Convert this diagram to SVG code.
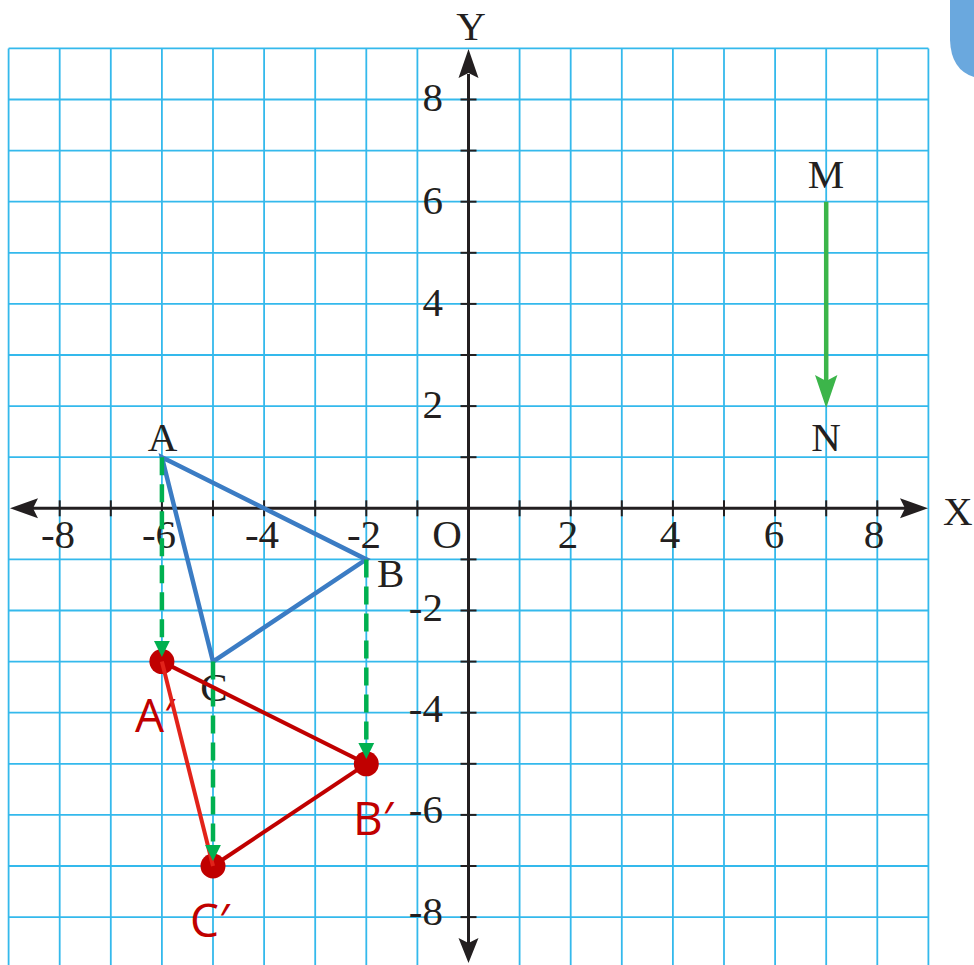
<svg xmlns="http://www.w3.org/2000/svg" width="974" height="965" viewBox="0 0 974 965">
<defs>
<style>
.grid line{stroke:#34b9ec;stroke-width:1.8}
.axis{stroke:#231f20;stroke-width:3;fill:none}
.tick{stroke:#231f20;stroke-width:2}
.lbl{font-family:"Liberation Serif","Times New Roman",serif;font-size:41px;fill:#231f20}
.xl{text-anchor:middle}
.yl{text-anchor:end}
.rl{font-family:"Open Sans","Noto Sans","DejaVu Sans",sans-serif;font-size:46px;fill:#c00000}
.dash{stroke:#00b050;stroke-width:4.5;stroke-dasharray:18 9;fill:none}
.gh{fill:#00b050}
.red{stroke:#c00000;stroke-width:4;fill:none}
.dot{fill:#c00000}
</style>
</defs>
<rect width="974" height="965" fill="#ffffff"/>
<path d="M950 0 L950 40 Q951 70 974 77 L974 0 Z" fill="#6aa8de"/>
<g class="grid">
<line x1="8.6" y1="48.4" x2="8.6" y2="965"/>
<line x1="59.7" y1="48.4" x2="59.7" y2="965"/>
<line x1="110.8" y1="48.4" x2="110.8" y2="965"/>
<line x1="161.9" y1="48.4" x2="161.9" y2="965"/>
<line x1="213" y1="48.4" x2="213" y2="965"/>
<line x1="264.1" y1="48.4" x2="264.1" y2="965"/>
<line x1="315.2" y1="48.4" x2="315.2" y2="965"/>
<line x1="366.3" y1="48.4" x2="366.3" y2="965"/>
<line x1="417.4" y1="48.4" x2="417.4" y2="965"/>
<line x1="519.6" y1="48.4" x2="519.6" y2="965"/>
<line x1="570.7" y1="48.4" x2="570.7" y2="965"/>
<line x1="621.8" y1="48.4" x2="621.8" y2="965"/>
<line x1="672.9" y1="48.4" x2="672.9" y2="965"/>
<line x1="724" y1="48.4" x2="724" y2="965"/>
<line x1="775.1" y1="48.4" x2="775.1" y2="965"/>
<line x1="826.2" y1="48.4" x2="826.2" y2="965"/>
<line x1="877.3" y1="48.4" x2="877.3" y2="965"/>
<line x1="928.4" y1="48.4" x2="928.4" y2="965"/>
<line x1="8.6" y1="48.4" x2="928.4" y2="48.4"/>
<line x1="8.6" y1="99.5" x2="928.4" y2="99.5"/>
<line x1="8.6" y1="150.6" x2="928.4" y2="150.6"/>
<line x1="8.6" y1="201.7" x2="928.4" y2="201.7"/>
<line x1="8.6" y1="252.8" x2="928.4" y2="252.8"/>
<line x1="8.6" y1="303.9" x2="928.4" y2="303.9"/>
<line x1="8.6" y1="355" x2="928.4" y2="355"/>
<line x1="8.6" y1="406.1" x2="928.4" y2="406.1"/>
<line x1="8.6" y1="457.2" x2="928.4" y2="457.2"/>
<line x1="8.6" y1="559.4" x2="928.4" y2="559.4"/>
<line x1="8.6" y1="610.5" x2="928.4" y2="610.5"/>
<line x1="8.6" y1="661.6" x2="928.4" y2="661.6"/>
<line x1="8.6" y1="712.7" x2="928.4" y2="712.7"/>
<line x1="8.6" y1="763.8" x2="928.4" y2="763.8"/>
<line x1="8.6" y1="814.9" x2="928.4" y2="814.9"/>
<line x1="8.6" y1="866" x2="928.4" y2="866"/>
<line x1="8.6" y1="917.1" x2="928.4" y2="917.1"/>
</g>
<g id="axes">
<line class="axis" x1="32" y1="508.3" x2="905" y2="508.3"/>
<line class="axis" x1="468.5" y1="74" x2="468.5" y2="943"/>
<polygon points="928,508.3 900,498.3 905,508.3 900,518.3" fill="#231f20"/>
<polygon points="10,508.3 38,498.3 33,508.3 38,518.3" fill="#231f20"/>
<polygon points="468.5,49 458.5,78 468.5,73 478.5,78" fill="#231f20"/>
<polygon points="468.5,963 458.5,938 468.5,943 478.5,938" fill="#231f20"/>
<g class="tick">
<line x1="59.7" y1="500.3" x2="59.7" y2="516.3"/>
<line x1="110.8" y1="500.3" x2="110.8" y2="516.3"/>
<line x1="161.9" y1="500.3" x2="161.9" y2="516.3"/>
<line x1="213" y1="500.3" x2="213" y2="516.3"/>
<line x1="264.1" y1="500.3" x2="264.1" y2="516.3"/>
<line x1="315.2" y1="500.3" x2="315.2" y2="516.3"/>
<line x1="366.3" y1="500.3" x2="366.3" y2="516.3"/>
<line x1="417.4" y1="500.3" x2="417.4" y2="516.3"/>
<line x1="519.6" y1="500.3" x2="519.6" y2="516.3"/>
<line x1="570.7" y1="500.3" x2="570.7" y2="516.3"/>
<line x1="621.8" y1="500.3" x2="621.8" y2="516.3"/>
<line x1="672.9" y1="500.3" x2="672.9" y2="516.3"/>
<line x1="724" y1="500.3" x2="724" y2="516.3"/>
<line x1="775.1" y1="500.3" x2="775.1" y2="516.3"/>
<line x1="826.2" y1="500.3" x2="826.2" y2="516.3"/>
<line x1="877.3" y1="500.3" x2="877.3" y2="516.3"/>
<line x1="460.5" y1="99.5" x2="476.5" y2="99.5"/>
<line x1="460.5" y1="150.6" x2="476.5" y2="150.6"/>
<line x1="460.5" y1="201.7" x2="476.5" y2="201.7"/>
<line x1="460.5" y1="252.8" x2="476.5" y2="252.8"/>
<line x1="460.5" y1="303.9" x2="476.5" y2="303.9"/>
<line x1="460.5" y1="355" x2="476.5" y2="355"/>
<line x1="460.5" y1="406.1" x2="476.5" y2="406.1"/>
<line x1="460.5" y1="457.2" x2="476.5" y2="457.2"/>
<line x1="460.5" y1="559.4" x2="476.5" y2="559.4"/>
<line x1="460.5" y1="610.5" x2="476.5" y2="610.5"/>
<line x1="460.5" y1="661.6" x2="476.5" y2="661.6"/>
<line x1="460.5" y1="712.7" x2="476.5" y2="712.7"/>
<line x1="460.5" y1="763.8" x2="476.5" y2="763.8"/>
<line x1="460.5" y1="814.9" x2="476.5" y2="814.9"/>
<line x1="460.5" y1="866" x2="476.5" y2="866"/>
<line x1="460.5" y1="917.1" x2="476.5" y2="917.1"/>
</g>
<text class="lbl xl" x="471" y="40">Y</text>
<text class="lbl" x="943" y="525">X</text>
<text class="lbl xl" x="447" y="548">O</text>
<text class="lbl xl" x="58" y="548">-8</text>
<text class="lbl xl" x="159" y="548">-6</text>
<text class="lbl xl" x="262" y="548">-4</text>
<text class="lbl xl" x="364" y="548">-2</text>
<text class="lbl xl" x="568" y="548">2</text>
<text class="lbl xl" x="670" y="548">4</text>
<text class="lbl xl" x="774" y="548">6</text>
<text class="lbl xl" x="874" y="548">8</text>
<text class="lbl yl" x="443" y="111">8</text>
<text class="lbl yl" x="443" y="214">6</text>
<text class="lbl yl" x="443" y="316">4</text>
<text class="lbl yl" x="443" y="418">2</text>
<text class="lbl yl" x="443" y="621">-2</text>
<text class="lbl yl" x="443" y="722">-4</text>
<text class="lbl yl" x="443" y="823">-6</text>
<text class="lbl yl" x="443" y="925">-8</text>
</g>
<g id="node-A"><text class="lbl xl" x="162.5" y="451">A</text></g>
<g id="node-B"><text class="lbl" x="377" y="587">B</text></g>
<g id="node-C"><text class="lbl xl" x="214" y="701">C</text></g>
<g id="node-M"><text class="lbl xl" x="826" y="188">M</text></g>
<g id="node-N"><text class="lbl xl" x="826" y="451">N</text></g>
<g id="node-A2"><text class="rl" x="135" y="732">A′</text></g>
<g id="node-B2"><text class="rl" x="353" y="835">B′</text></g>
<g id="node-C2"><text class="rl" x="190" y="937">C′</text></g>
<g id="connectors">
<polygon points="161.9,457.2 366.3,559.4 213,661.6" fill="none" stroke="#3b7cc4" stroke-width="4.5" stroke-linejoin="miter"/>
<line class="dash" x1="161.9" y1="457.2" x2="161.9" y2="642"/>
<line class="dash" x1="213" y1="661.6" x2="213" y2="846"/>
<line class="dash" x1="366.3" y1="559.4" x2="366.3" y2="744"/>
<line class="red" x1="161.9" y1="661.6" x2="366.3" y2="763.8"/>
<line class="red" x1="366.3" y1="763.8" x2="213" y2="866"/>
<circle class="dot" cx="161.9" cy="661.6" r="12.5"/>
<circle class="dot" cx="366.3" cy="763.8" r="12.5"/>
<circle class="dot" cx="213" cy="866" r="12.5"/>
<line x1="161.9" y1="661.6" x2="213" y2="866" stroke="#e2231a" stroke-width="4"/>
<polygon class="gh" points="161.9,657 154,641 169.8,641"/>
<polygon class="gh" points="366.3,759 358.4,743 374.2,743"/>
<polygon class="gh" points="213,861 205.1,845 220.9,845"/>
<line x1="826.2" y1="201.7" x2="826.2" y2="382" stroke="#3cb54a" stroke-width="4.5"/>
<polygon points="826.2,408 815,375 826.2,381 837.4,375" fill="#3cb54a"/>
</g>
</svg>
